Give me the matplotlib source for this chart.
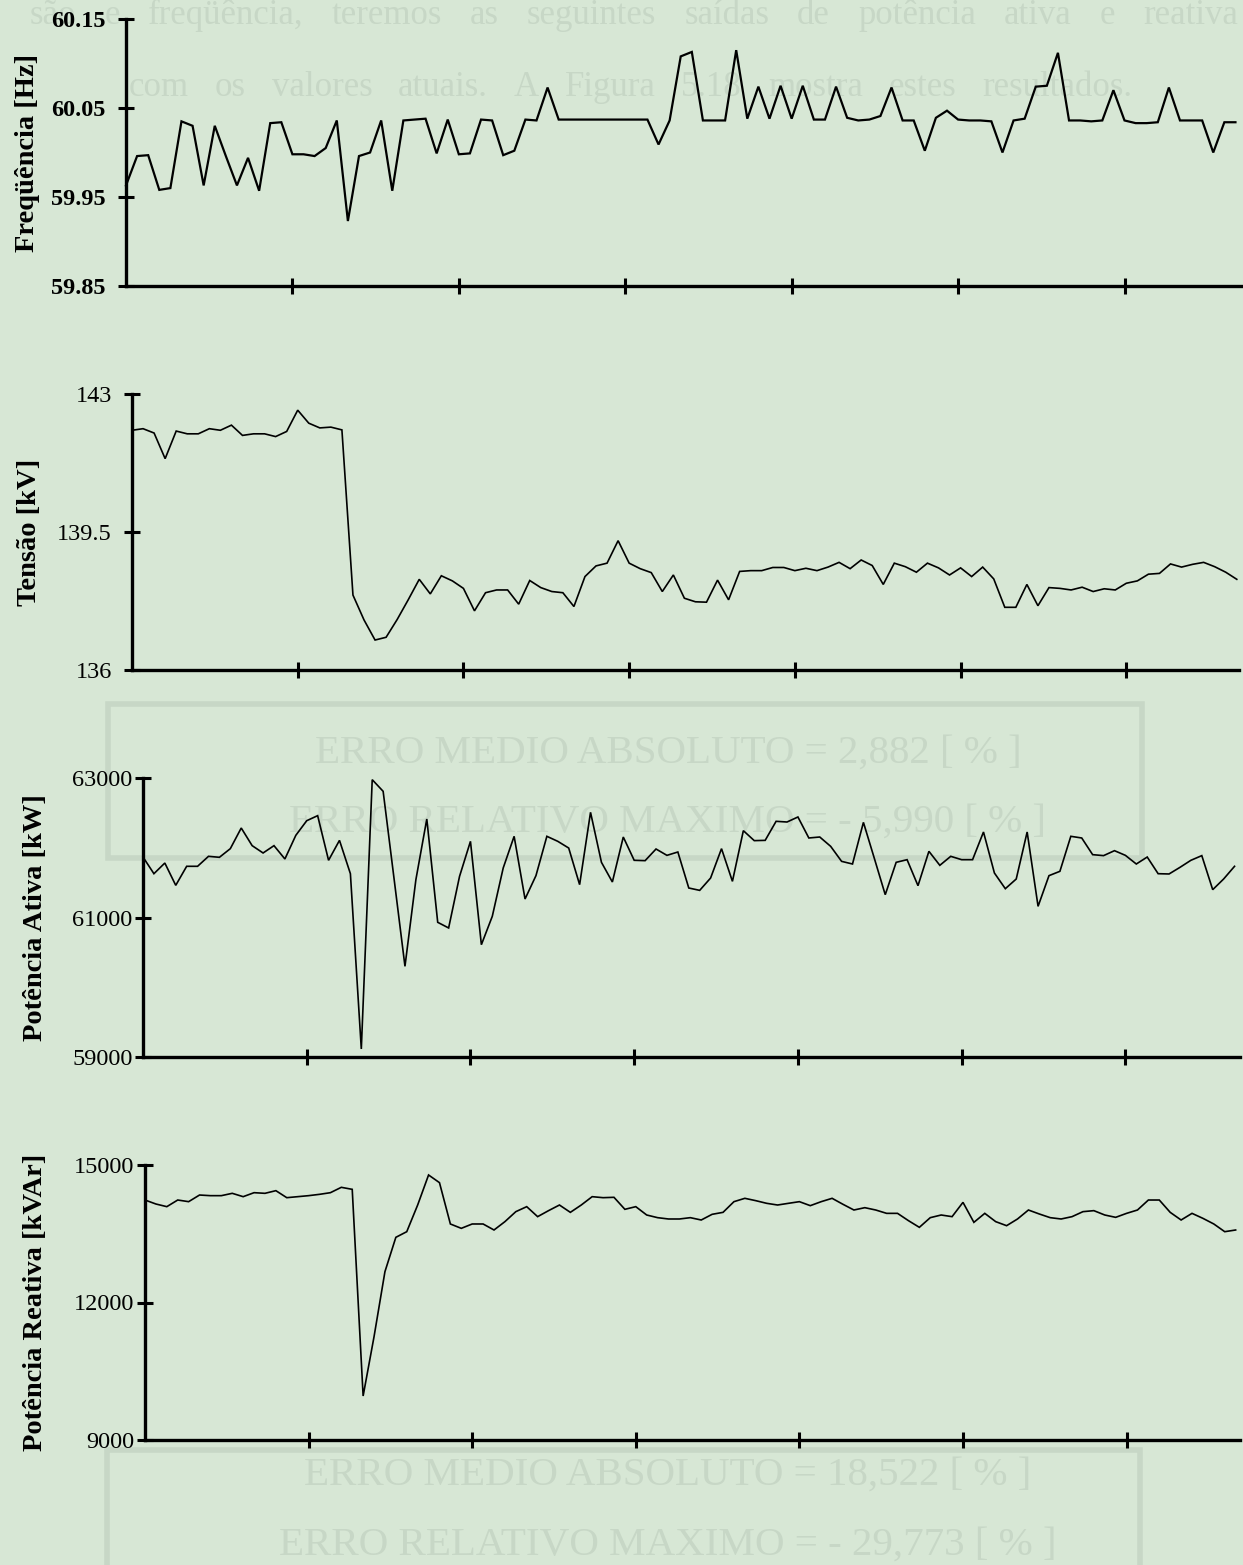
import numpy as np
import matplotlib.pyplot as plt
from matplotlib.patches import Rectangle

# ---- measured series (0.1 s sampling, 101 samples) ----
freq = [59.963, 59.996, 59.997, 59.958, 59.960, 60.035, 60.030, 59.963, 60.030, 59.996,
        59.963, 59.994, 59.957, 60.033, 60.034, 59.998, 59.998, 59.996, 60.005, 60.036,
        59.923, 59.996, 60.000, 60.036, 59.957, 60.036, 60.037, 60.038, 59.999, 60.037,
        59.998, 59.999, 60.037, 60.036, 59.997, 60.002, 60.037, 60.036, 60.073, 60.037,
        60.037, 60.037, 60.037, 60.037, 60.037, 60.037, 60.037, 60.037, 60.009, 60.036,
        60.108, 60.113, 60.036, 60.036, 60.036, 60.115, 60.038, 60.074, 60.038, 60.075,
        60.038, 60.075, 60.037, 60.037, 60.074, 60.039, 60.036, 60.037, 60.041, 60.073,
        60.036, 60.036, 60.002, 60.039, 60.047, 60.037, 60.036, 60.036, 60.035, 60.000,
        60.036, 60.038, 60.074, 60.075, 60.112, 60.036, 60.036, 60.035, 60.036, 60.070,
        60.036, 60.033, 60.033, 60.034, 60.073, 60.036, 60.036, 60.036, 60.000, 60.034,
        60.034]

tensao = [142.08, 142.12, 142.01, 141.36, 142.06, 141.99, 141.99, 142.12, 142.08, 142.21,
          141.95, 141.99, 141.99, 141.92, 142.05, 142.59, 142.26, 142.14, 142.16, 142.09,
          137.90, 137.27, 136.76, 136.83, 137.28, 137.78, 138.30, 137.93, 138.39, 138.26,
          138.07, 137.50, 137.96, 138.03, 138.03, 137.67, 138.27, 138.09, 137.99, 137.96,
          137.61, 138.37, 138.64, 138.71, 139.28, 138.71, 138.57, 138.47, 137.99, 138.41,
          137.82, 137.73, 137.72, 138.28, 137.78, 138.50, 138.52, 138.52, 138.60, 138.60,
          138.52, 138.58, 138.52, 138.61, 138.73, 138.57, 138.79, 138.65, 138.17, 138.71,
          138.62, 138.48, 138.71, 138.59, 138.41, 138.59, 138.37, 138.61, 138.31, 137.59,
          137.59, 138.17, 137.63, 138.09, 138.07, 138.03, 138.10, 137.99, 138.06, 138.03,
          138.20, 138.26, 138.43, 138.45, 138.69, 138.61, 138.68, 138.73, 138.62, 138.48,
          138.30]

p_ativa = [61867, 61628, 61781, 61461, 61734, 61734, 61877, 61863, 61987, 62283,
           62030, 61925, 62030, 61839, 62178, 62388, 62460, 61820, 62106, 61628,
           59115, 62976, 62809, 61557, 60300, 61542, 62412, 60931, 60850, 61590,
           62092, 60610, 61017, 61710, 62164, 61265, 61600, 62164, 62092, 61996,
           61471, 62508, 61791, 61509, 62154, 61820, 61815, 61982, 61891, 61939,
           61423, 61389, 61566, 61987, 61518, 62245, 62102, 62106, 62379, 62369,
           62441, 62140, 62154, 62020, 61805, 61767, 62364, 61848, 61327, 61791,
           61829, 61456, 61949, 61748, 61877, 61829, 61829, 62226, 61638, 61413,
           61552, 62226, 61160, 61600, 61662, 62164, 62140, 61901, 61887, 61958,
           61891, 61767, 61867, 61628, 61624, 61719, 61820, 61887, 61399, 61552,
           61734]

q_reativa = [14236, 14149, 14091, 14236, 14200, 14345, 14331, 14331, 14382, 14309,
             14396, 14382, 14440, 14287, 14309, 14331, 14360, 14396, 14513, 14469,
             9960, 11254, 12673, 13422, 13545, 14127, 14782, 14615, 13713, 13618,
             13713, 13713, 13582, 13764, 13982, 14091, 13873, 14004, 14127, 13967,
             14127, 14309, 14287, 14295, 14033, 14091, 13909, 13851, 13822, 13822,
             13851, 13800, 13924, 13967, 14200, 14273, 14222, 14164, 14127, 14164,
             14200, 14113, 14200, 14273, 14142, 14018, 14069, 14018, 13945, 13945,
             13786, 13640, 13851, 13909, 13873, 14185, 13749, 13945, 13764, 13676,
             13822, 14018, 13931, 13851, 13822, 13873, 13982, 14004, 13909, 13858,
             13945, 14018, 14236, 14236, 13967, 13800, 13945, 13836, 13713, 13545,
             13582]

tempo = np.arange(len(freq)) * 0.1
tempo_ticks = [1.5, 3.0, 4.5, 6.0, 7.5, 9.0]

y_labels = ["Freqüência [Hz]", "Tensão [kV]", "Potência Ativa [kW]", "Potência Reativa [kVAr]"]
y_ticks = [[59.85, 59.95, 60.05, 60.15], [136, 139.5, 143], [59000, 61000, 63000], [9000, 12000, 15000]]
y_ticklabels = [["59.85", "59.95", "60.05", "60.15"], ["136", "139.5", "143"],
                ["59000", "61000", "63000"], ["9000", "12000", "15000"]]
series = [freq, tensao, p_ativa, q_reativa]

# ---- page layout (pixels) ----
W, H = 1243, 1565
BG = "#d7e7d5"
GHOST = "#c7d7c6"
SERIF = ["Liberation Serif", "DejaVu Serif"]

fig = plt.figure(figsize=(W / 100, H / 100), dpi=100, facecolor=BG)
renderer = fig.canvas.get_renderer()

def fx(px):
    return px / W

def fy(py):
    return 1 - py / H

# faint justified paragraph from the following sheet, seen through the paper
para_lines = [
    ("são e freqüência, teremos as seguintes saídas de potência ativa e reativa", 30, 1238, 15),
    ("com os valores atuais. A Figura 5.18 mostra estes resultados.", 129, 1132, 87),
]
for text_line, x_start, x_end, yy in para_lines:
    words = text_line.split()
    arts = [fig.text(0, fy(yy), w_, family=SERIF, fontsize=25, color=GHOST,
                     ha="left", va="center", zorder=-2) for w_ in words]
    widths = [a.get_window_extent(renderer).width for a in arts]
    gap = (x_end - x_start - sum(widths)) / (len(words) - 1)
    x_cur = x_start
    for a, wd in zip(arts, widths):
        a.set_x(fx(x_cur))
        x_cur += wd + gap

for (bx0, by0, bx1, by1) in [(108, 704, 1142, 858), (107, 1450, 1140, 1600)]:
    fig.patches.append(Rectangle((fx(bx0), fy(by1)), fx(bx1 - bx0), (by1 - by0) / H,
                                 transform=fig.transFigure, fill=False,
                                 edgecolor=GHOST, lw=4, zorder=-2))
for txt, yy in [("ERRO MEDIO ABSOLUTO = 2,882 [ % ]", 753),
                ("ERRO RELATIVO MAXIMO = - 5,990 [ % ]", 822),
                ("ERRO MEDIO ABSOLUTO = 18,522 [ % ]", 1475),
                ("ERRO RELATIVO MAXIMO = - 29,773 [ % ]", 1545)]:
    fig.text(fx(668), fy(yy), txt, family=SERIF, fontsize=29.5, color=GHOST,
             ha="center", va="center", zorder=-2)

# panel frames: x0, x1, y_top, y_bottom (px), right x-limit, label centre x, tick pad
panels = [
    (126, 1241, 19, 286, 10.05, 28, 9),
    (132, 1239, 394, 670, 10.02, 30, 9),
    (143, 1240, 778, 1057, 10.05, 36, 2),
    (145, 1240, 1165, 1440, 10.04, 36, 2),
]

for i, (x0, x1, yt, yb, xmax, lx, pad) in enumerate(panels):
    ax = fig.add_axes([fx(x0), fy(yb), fx(x1 - x0), (yb - yt) / H])
    ax.patch.set_alpha(0)
    ax.plot(tempo, series[i], color="black", lw=1.6 if i == 0 else 1.2,
            solid_joinstyle="miter", clip_on=False)
    ax.set_xlim(0, xmax)
    ax.set_ylim(y_ticks[i][0], y_ticks[i][-1])
    for s in ("top", "right"):
        ax.spines[s].set_visible(False)
    for s in ("left", "bottom"):
        ax.spines[s].set_linewidth(2.4)
    ax.set_xticks(tempo_ticks)
    ax.set_xticklabels([])
    ax.set_yticks(y_ticks[i])
    ax.set_yticklabels(y_ticklabels[i], family=SERIF, fontsize=17.5,
                       fontweight="bold" if i == 0 else "normal")
    ax.tick_params(axis="both", direction="inout", length=11, width=2.2, color="black")
    ax.tick_params(axis="y", pad=pad)
    fig.text(fx(lx), fy((yt + yb) / 2), y_labels[i], rotation=90, family=SERIF,
             fontsize=20.5, fontweight="bold", ha="center", va="center")

fig.savefig("out.png", dpi=100, facecolor=BG)
